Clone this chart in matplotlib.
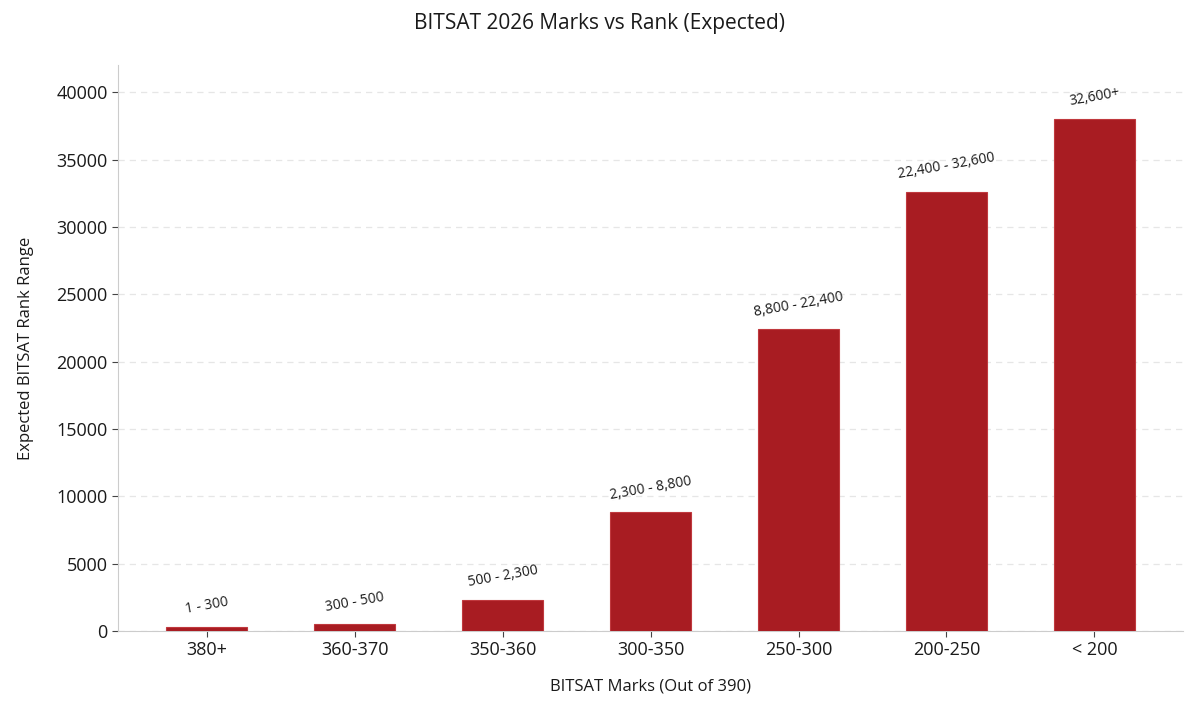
import matplotlib
matplotlib.use("Agg")
import matplotlib.pyplot as plt

categories = ["380+", "360-370", "350-360", "300-350", "250-300", "200-250", "< 200"]
rank_values = [300, 500, 2300, 8800, 22400, 32600, 38000]
range_labels = ["1 - 300", "300 - 500", "500 - 2,300", "2,300 - 8,800",
                "8,800 - 22,400", "22,400 - 32,600", "32,600+"]

plt.rcParams['font.family'] = ['Open Sans', 'DejaVu Sans']

fig = plt.figure(figsize=(12, 7.09), dpi=100)
ax = fig.add_axes([0.0983, 0.110, 0.8877, 0.798])

x = list(range(len(categories)))
bars = ax.bar(x, rank_values, width=0.55, color="#A81C22", edgecolor="#C0393E", linewidth=0.8, zorder=3)

for xi, v, lab in zip(x, rank_values, range_labels):
    ax.annotate(lab, (xi, v), xytext=(0, 7), textcoords="offset points",
                ha="center", va="bottom", rotation=10, fontsize=10, color="#1a1a1a")

ax.set_xlim(-0.6, 6.6)
ax.set_ylim(0, 42000)
ax.set_yticks([0, 5000, 10000, 15000, 20000, 25000, 30000, 35000, 40000])
ax.set_xticks(x)
ax.set_xticklabels(categories)
ax.tick_params(axis='both', labelsize=13, colors="#1a1a1a", length=4, color="#444444")

ax.yaxis.grid(True, linestyle=(0, (5, 4)), color="#E6E6E6", linewidth=0.9, zorder=0)
ax.set_axisbelow(True)
for s in ["top", "right"]:
    ax.spines[s].set_visible(False)
for s in ["left", "bottom"]:
    ax.spines[s].set_color("#CCCCCC")

ax.set_xlabel("BITSAT Marks (Out of 390)", fontsize=12, labelpad=14, color="#1a1a1a")
ax.set_ylabel("Expected BITSAT Rank Range", fontsize=12, labelpad=16, color="#1a1a1a")
fig.suptitle("BITSAT 2026 Marks vs Rank (Expected)", fontsize=15, y=0.982, color="#1a1a1a")

fig.savefig("out.png", dpi=100)
